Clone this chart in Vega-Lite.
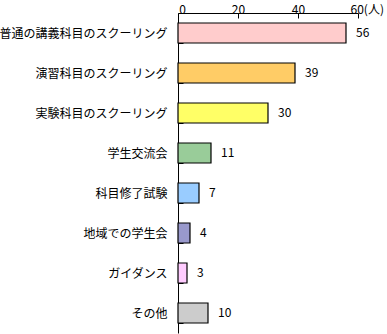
{
  "$schema": "https://vega.github.io/schema/vega-lite/v6.json",
  "width": 180,
  "height": 320,
  "autosize": "none",
  "padding": {"left": 178, "top": 13, "right": 29, "bottom": 1},
  "background": "white",
  "config": {"view": {"stroke": null}},
  "data": {"values": [
    {"item": "普通の講義科目のスクーリング", "count": 56, "color": "#FFCCCC"},
    {"item": "演習科目のスクーリング", "count": 39, "color": "#FFCC66"},
    {"item": "実験科目のスクーリング", "count": 30, "color": "#FFFF66"},
    {"item": "学生交流会", "count": 11, "color": "#99CC99"},
    {"item": "科目修了試験", "count": 7, "color": "#99CCFF"},
    {"item": "地域での学生会", "count": 4, "color": "#9999CC"},
    {"item": "ガイダンス", "count": 3, "color": "#FFCCFF"},
    {"item": "その他", "count": 10, "color": "#CCCCCC"}
  ]},
  "encoding": {
    "y": {"field": "item", "type": "nominal", "sort": null,
      "scale": {"paddingInner": 0.5, "paddingOuter": 0.25},
      "axis": {"title": null, "domainColor": "black", "tickColor": "black", "tickSize": -5, "tickBand": "extent",
        "labelFont": "Noto Sans CJK JP", "labelFontSize": 12, "labelColor": "black", "labelPadding": 16}},
    "x": {"field": "count", "type": "quantitative",
      "scale": {"domain": [0, 60], "nice": false},
      "axis": {"orient": "top", "title": null, "values": [0, 20, 40, 60], "grid": false,
        "domainColor": "black", "tickColor": "black", "tickSize": -5,
        "labelFont": "Noto Sans CJK JP", "labelFontSize": 12, "labelColor": "black", "labelPadding": 2,
        "labelExpr": "datum.value == 60 ? '60(人)' : datum.label",
        "labelAlign": {"condition": {"test": "datum.value == 60", "value": "left"}, "value": "center"},
        "labelOffset": {"condition": [{"test": "datum.value == 60", "value": -8}, {"test": "datum.value == 0", "value": 4}], "value": 0}}}
  },
  "layer": [
    {"mark": {"type": "bar", "stroke": "black", "strokeWidth": 1.2},
     "encoding": {"color": {"field": "color", "type": "nominal", "scale": null}}},
    {"mark": {"type": "text", "align": "left", "dx": 10, "font": "Noto Sans CJK JP", "fontSize": 12, "color": "black"},
     "encoding": {"text": {"field": "count", "type": "quantitative"}}}
  ]
}
